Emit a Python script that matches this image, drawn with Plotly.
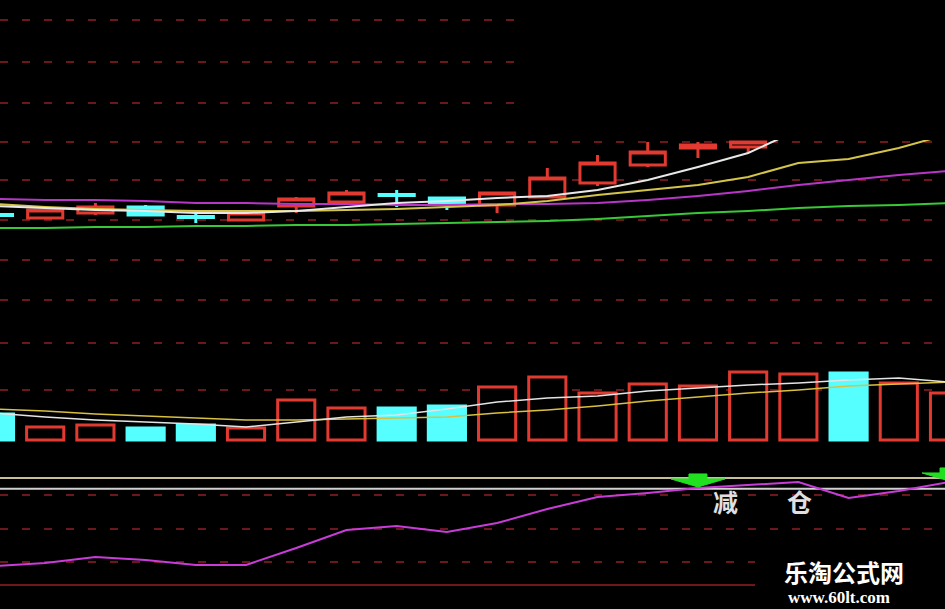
import plotly.graph_objects as go

# ---------------- data ----------------
idx = list(range(20))

# candles (visible part of price panel: bars 0..15)
c_idx   = list(range(16))
c_open  = [13.275, 13.10, 13.35, 13.65, 13.175, 13.00, 13.70, 13.90, 14.275, 14.10, 13.75, 14.15, 14.85, 15.75, 16.60, 16.65]
c_high  = [13.40, 13.50, 13.85, 13.75, 13.35, 13.35, 14.15, 14.50, 14.50, 14.10, 14.40, 15.60, 16.25, 16.90, 16.90, 16.95]
c_low   = [12.75, 13.10, 13.25, 13.20, 12.85, 12.95, 13.35, 13.90, 13.65, 13.50, 13.35, 14.15, 14.70, 15.65, 16.10, 16.35]
c_close = [13.225, 13.50, 13.65, 13.25, 13.125, 13.35, 14.05, 14.35, 14.225, 13.85, 14.35, 15.10, 15.85, 16.40, 16.75, 16.90]

ma_white  = [13.70, 13.60, 13.50, 13.45, 13.35, 13.35, 13.45, 13.65, 13.85, 13.95, 14.10, 14.20, 14.50, 15.00, 15.65, 16.35, 17.50, None, None, None]
ma_yellow = [13.80, 13.65, 13.55, 13.50, 13.45, 13.45, 13.45, 13.50, 13.55, 13.65, 13.75, 13.95, 14.25, 14.50, 14.75, 15.15, 15.85, 16.05, 16.60, 17.30]
ma_purple = [14.05, 14.00, 14.00, 13.95, 13.85, 13.85, 13.80, 13.80, 13.75, 13.75, 13.80, 13.80, 13.85, 14.00, 14.20, 14.45, 14.75, 15.00, 15.25, 15.45]
ma_green  = [12.60, 12.60, 12.65, 12.65, 12.70, 12.70, 12.75, 12.75, 12.80, 12.85, 12.90, 12.95, 13.05, 13.20, 13.35, 13.45, 13.60, 13.70, 13.75, 13.85]

# volume
volume   = [13, 6.5, 7.5, 6, 7.5, 6, 20, 16, 16, 17, 26.5, 31.5, 23.5, 28, 27, 34, 33, 33.5, 28.5, 23.5]
vol_up   = [False, True, True, False, False, True, True, True, False, False,
            True, True, True, True, True, True, True, False, True, True]
vma_white  = [13.5, 11.5, 10, 9, 8, 6.5, 9, 11.5, 12.5, 15.5, 19, 21, 22, 24.5, 26, 27.5, 28.5, 30, 31, 29]
vma_yellow = [15.5, 14.5, 13, 12, 11, 10, 10, 10.5, 11, 11.5, 13.5, 15, 17, 19.5, 21.5, 23.5, 25, 27, 28, 29]

# indicator
indicator = [17.8, 20.6, 26.2, 23.4, 18.7, 18.7, 34.6, 51.4, 55.1, 49.5, 57.9, 71.0, 82.2, 86.0, 90.7, 93.5, 96.3, 81.3, 87.9, 96.3]
level_hi, level_lo, level_zero = 100, 90, 0
signal_idx = [14, 19]
signal_text = ["减", "仓"]
watermark_title = "乐淘公式网"
watermark_url = "www.60lt.com"

# ---------------- style ----------------
RED = "#e23a30"
CYAN = "#55ffff"
GRID = "rgba(120,25,30,0.9)"
DASH = "8px,14px"

fig = go.Figure()

# price MAs
for vals, col in [(ma_green, "#38c838"), (ma_purple, "#b835c8"),
                  (ma_yellow, "#d4c44a"), (ma_white, "#e8e8e8")]:
    fig.add_trace(go.Scatter(x=idx, y=vals, mode="lines", line=dict(color=col, width=2),
                             yaxis="y", hoverinfo="skip", connectgaps=False))

fig.add_trace(go.Candlestick(
    x=c_idx, open=c_open, high=c_high, low=c_low, close=c_close, yaxis="y",
    increasing=dict(line=dict(color=RED, width=3), fillcolor="black"),
    decreasing=dict(line=dict(color=CYAN, width=3), fillcolor=CYAN),
    whiskerwidth=0,
))

# volume bars
fig.add_trace(go.Bar(
    x=idx, y=volume, yaxis="y2", width=0.74,
    marker=dict(color=["black" if u else CYAN for u in vol_up],
                line=dict(color=[RED if u else CYAN for u in vol_up], width=3)),
))
fig.add_trace(go.Scatter(x=idx, y=vma_yellow, mode="lines", yaxis="y2",
                         line=dict(color="#d8c040", width=1.5)))
fig.add_trace(go.Scatter(x=idx, y=vma_white, mode="lines", yaxis="y2",
                         line=dict(color="#e4e4e4", width=1.5)))

# indicator
fig.add_trace(go.Scatter(x=idx, y=indicator, mode="lines", yaxis="y3",
                         line=dict(color="#c83cd8", width=2)))

shapes = []
# reference levels in indicator panel
shapes.append(dict(type="line", xref="paper", x0=0, x1=1, yref="y3", y0=level_hi, y1=level_hi,
                   line=dict(color="#c8bf98", width=2), layer="below"))
shapes.append(dict(type="line", xref="paper", x0=0, x1=1, yref="y3", y0=level_lo, y1=level_lo,
                   line=dict(color="#d0d0d0", width=2), layer="below"))
shapes.append(dict(type="line", xref="paper", x0=0, x1=0.8, yref="y3", y0=level_zero, y1=level_zero,
                   line=dict(color="#701818", width=2), layer="below"))
# partial grid lines at top
for yp in [20, 62, 103]:
    shapes.append(dict(type="line", xref="paper", x0=0, x1=525 / 945, yref="paper",
                       y0=1 - yp / 609, y1=1 - yp / 609,
                       line=dict(color=GRID, width=2, dash=DASH), layer="below"))
# signal arrows
for s in signal_idx:
    shapes.append(dict(type="path", xref="x", yref="y3", xsizemode="pixel", ysizemode="pixel",
                       xanchor=s, yanchor=indicator[s],
                       path="M -9,14 L 9,14 L 9,9 L 27,9 L 0,1 L -27,9 L -9,9 Z",
                       fillcolor="#20e020", line=dict(color="#20e020", width=1), layer="above"))
# watermark background
shapes.append(dict(type="rect", xref="paper", yref="paper", x0=755 / 945, x1=1,
                   y0=0, y1=1 - 548 / 609, fillcolor="black", line=dict(width=0), layer="above"))

annotations = [
    dict(x=signal_idx[0], y=level_lo, xref="x", yref="y3", text="<b>" + signal_text[0] + "</b>", showarrow=False,
         xanchor="center", yanchor="middle",
         xshift=28, yshift=-12, font=dict(family="Noto Sans CJK SC", size=25, color="#e0e0e0")),
    dict(x=signal_idx[0], y=level_lo, xref="x", yref="y3", text="<b>" + signal_text[1] + "</b>", showarrow=False,
         xanchor="center", yanchor="middle",
         xshift=102, yshift=-12, font=dict(family="Noto Sans CJK SC", size=25, color="#e0e0e0")),
    dict(x=844 / 945, y=1 - 571 / 609, xref="paper", yref="paper", text="<b>" + watermark_title + "</b>",
         xanchor="center", yanchor="middle",
         showarrow=False, font=dict(family="Noto Sans CJK SC", size=24, color="white")),
    dict(x=839 / 945, y=1 - 597 / 609, xref="paper", yref="paper", text="<b>" + watermark_url + "</b>",
         xanchor="center", yanchor="middle",
         showarrow=False, font=dict(family="Liberation Serif", size=17, color="white")),
]

axis_common = dict(showticklabels=False, zeroline=False, showline=False, ticks="",
                   gridcolor=GRID, gridwidth=2, griddash=DASH)

fig.update_layout(
    width=945, height=609, margin=dict(l=0, r=0, t=0, b=0),
    paper_bgcolor="black", plot_bgcolor="black", showlegend=False,
    boxgap=0.0, bargap=0.26,
    xaxis=dict(range=[0.1, 18.92], showgrid=False, showticklabels=False, zeroline=False,
               rangeslider=dict(visible=False), domain=[0, 1]),
    yaxis=dict(domain=[1 - 325 / 609, 1 - 140 / 609], range=[7.75, 17.0],
               tickvals=[9, 11, 13, 15, 16.9], **axis_common),
    yaxis2=dict(domain=[1 - 445 / 609, 1 - 335 / 609], range=[-2.5, 52.5],
                tickvals=[25, 48.5], **axis_common),
    yaxis3=dict(domain=[0, 1 - 455 / 609], range=[-22.43, 121.5],
                tickvals=[21.5, 52.3, 84.1], **axis_common),
    shapes=shapes, annotations=annotations,
)

fig.write_html("out.html", config={"displayModeBar": False},
               post_script="document.body.style.margin='0';document.body.style.background='black';document.body.style.overflow='hidden';")
